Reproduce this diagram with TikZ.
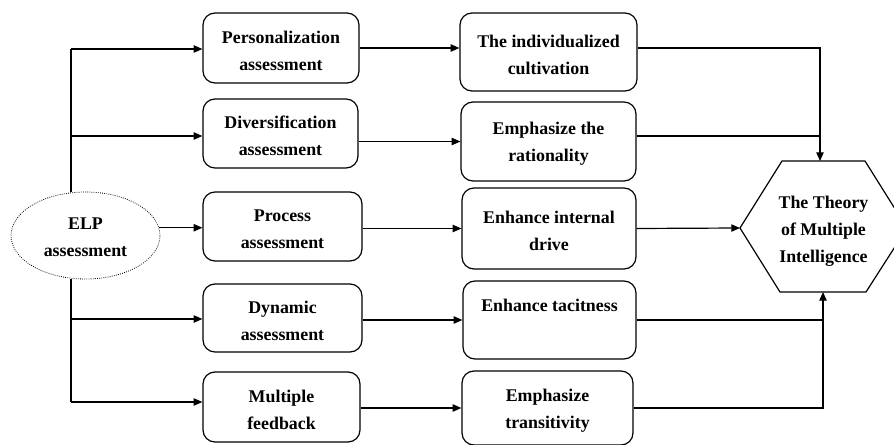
\documentclass[tikz,border=0pt]{standalone}
\usepackage{fontspec}
\setmainfont{Liberation Serif}
\usetikzlibrary{arrows.meta,shapes.geometric}
\begin{document}
\begin{tikzpicture}[x=0.75pt,y=-0.75pt,
  txt/.style={align=center,font=\fontsize{13.4}{20.25}\selectfont\bfseries,inner sep=0pt},
  box/.style={draw,line width=0.9pt,rounded corners=9pt,label={[txt,yshift=-2pt]center:#1}},
  sz/.style 2 args={minimum width=#1*0.75pt,minimum height=#2*0.75pt,inner sep=0pt},
  arr/.style={line width=0.9pt,-{Triangle[length=6.5pt,width=5.5pt]}},
  ln/.style={line width=0.9pt}]
\useasboundingbox (0,0) rectangle (894,445);
\fill[white] (0,0) rectangle (894,445);
% ELP ellipse
\node[ellipse,draw,densely dotted,line width=0.6pt,sz={149}{87},label={[txt,yshift=-1.5pt]center:ELP\\assessment}] (ell) at (85.5,235.5) {};
% column 1
\node[box={Personalization\\assessment},sz={156}{70}] (a1) at (281,48) {};
\node[box={Diversification\\assessment},sz={155}{69}] (a2) at (280.5,133.5) {};
\node[box={Process\\assessment},sz={159}{69}] (a3) at (282.5,226.5) {};
\node[box={Dynamic\\assessment},sz={159}{68}] (a4) at (282.5,318) {};
\node[box={Multiple\\feedback},sz={157}{70}] (a5) at (281.5,407) {};
% column 2
\node[box={The individualized\\cultivation},sz={177}{78}] (b1) at (548.5,52) {};
\node[box={Emphasize the\\rationality},sz={175}{79}] (b2) at (548.5,141.5) {};
\node[box={Enhance internal\\drive},sz={174}{81}] (b3) at (549,228.5) {};
\node[box={Enhance tacitness\\\strut},sz={173}{78}] (b4) at (549.5,320) {};
\node[box={Emphasize\\transitivity},sz={171}{74}] (b5) at (547.5,408) {};
% hexagon
\coordinate (h1) at (740,228);
\coordinate (h2) at (782,161);
\coordinate (h3) at (865,161);
\coordinate (h4) at (907,228);
\coordinate (h5) at (866,292);
\coordinate (h6) at (780,292);
\draw[ln] (h1)--(h2)--(h3)--(h4)--(h5)--(h6)--cycle;
\node[txt] (hex) at (823.5,231.5) {The Theory\\of Multiple\\Intelligence};
\coordinate (ht) at (820,161);
\coordinate (hb) at (823,292);
% trunk
\coordinate (t1) at (71,49);
\coordinate (t2) at (71,136);
\coordinate (t4) at (71,319);
\coordinate (t5) at (71,402);
\draw[ln] (ell.north -| t1) -- (t1);
\draw[ln] (ell.south -| t4) -- (t5);
\draw[arr] (t1) -- (t1 -| a1.west);
\draw[arr] (t2) -- (t2 -| a2.west);
\draw[arr] (ell.6) -- (ell.6 -| a3.west);
\draw[arr] (t4) -- (t4 -| a4.west);
\draw[arr] (t5) -- (t5 -| a5.west);
% column 1 to column 2
\draw[arr] (a1.east) -- (a1.east -| b1.west);
\draw[arr] (b2.west -| a2.east) -- (b2.west);
\draw[arr] (b3.west -| a3.east) -- (b3.west);
\draw[arr] (b4.west -| a4.east) -- (b4.west);
\draw[arr] (b5.west -| a5.east) -- (b5.west);
% column 2 to hexagon
\draw[arr] (b1.east |- a1.east) -| (ht);
\draw[ln] (b2.east |- t2) -- (t2 -| ht);
\draw[arr] (b3.east) -- (h1);
\draw[ln] (b4.east) -- (b4.east -| hb);
\draw[arr] (b5.east) -| (hb);
\end{tikzpicture}
\end{document}
